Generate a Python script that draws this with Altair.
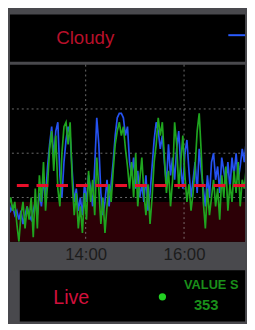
import altair as alt
import pandas as pd

# ---- data ----
start_min = 746      # 12:26
step_min = 2.5
blue = [9, 7, 8, 6, 7, 5, 7, 4, 6, 8, 6, 5, 7, 9, 6, 11, 8, 14, 10, 17,
        22, 26, 19, 25, 27, 15, 10, 18, 23, 26, 24, 16, 9, 12, 7, 10, 6, 13, 9, 15,
        12, 8, 17, 28, 22, 11, 6, 9, 14, 8, 13, 18, 24, 28, 29, 29, 28, 24, 26, 18,
        15, 19, 12, 16, 10, 13, 9, 15, 7, 11, 17, 23, 27, 25, 21, 24, 18, 13, 22, 15,
        19, 14, 21, 25, 17, 12, 20, 23, 16, 10, 14, 18, 11, 21, 16, 12, 8, 15, 10, 18,
        20, 14, 17, 11, 19, 16, 13, 18, 12, 19, 15, 20, 14, 17, 21, 18, 23, 26, 24, 28]
green = [8, 10, 7, 9, 4, 0, 6, 9, 3, 8, 5, 10, 1, 12, 3, 15, 9, 18, 7, 13,
         21, 25, 16, 24, 12, 8, 20, 26, 27, 22, 27, 14, 6, 11, 3, 8, 2, 11, 5, 16,
         9, 14, 6, 19, 12, 4, 10, 2, 8, 13, 9, 16, 22, 25, 27, 24, 26, 21, 17, 12,
         18, 10, 20, 8, 14, 19, 11, 6, 13, 4, 10, 18, 22, 28, 24, 27, 19, 11, 16, 8,
         14, 27, 22, 12, 18, 24, 15, 9, 13, 7, 11, 17, 25, 29, 20, 9, 3, 12, 6, 10,
         14, 8, 12, 5, 15, 10, 17, 7, 13, 9, 16, 11, 18, 8, 14, 12, 17, 10, 15, 20]
x_domain = [747.6, 1034.4]
y_domain = [0, 40]
tick_minutes = [840, 960]          # 14:00, 16:00
grid_values = [10, 20, 30]
threshold = 12.7
danger_zone = [0, 9]

times = [start_min + step_min * i for i in range(len(blue))]
series = pd.DataFrame({
    "t": times * 2,
    "v": blue + green,
    "s": ["blue"] * len(blue) + ["green"] * len(green),
})

BG = "#49494d"
W = 239

xs = alt.Scale(domain=x_domain, nice=False, zero=False)
ys = alt.Scale(domain=y_domain, nice=False)

# ---- header ----
header_df = pd.DataFrame({"label": ["Cloudy"]})
header_text = alt.Chart(header_df).mark_text(
    align="left", baseline="middle", fontSize=19, color="#b8102a", font="Liberation Sans"
).encode(text="label:N", x=alt.value(47), y=alt.value(24))
legend_line = alt.Chart(header_df).mark_rule(color="#2a5cff", strokeWidth=2).encode(
    x=alt.value(222), x2=alt.value(W), y=alt.value(21))
header = alt.layer(header_text, legend_line).properties(width=W, height=48)

# ---- main plot ----
zone = alt.Chart(pd.DataFrame({"lo": [danger_zone[0]], "hi": [danger_zone[1]]})).mark_rect(
    color="#2c0006").encode(
    y=alt.Y("lo:Q", scale=ys, axis=None), y2="hi:Q",
    x=alt.value(0), x2=alt.value(W))
hgrid = alt.Chart(pd.DataFrame({"g": grid_values})).mark_rule(
    color="#9a9a9a", strokeDash=[2, 3], strokeWidth=1, opacity=0.7).encode(
    y=alt.Y("g:Q", scale=ys, axis=None))
vgrid = alt.Chart(pd.DataFrame({"t": tick_minutes})).mark_rule(
    color="#9a9a9a", strokeDash=[2, 3], strokeWidth=1, opacity=0.7).encode(
    x=alt.X("t:Q", scale=xs))
lines = alt.Chart(series).mark_line(strokeWidth=1.7, clip=True).encode(
    x=alt.X("t:Q", scale=xs, axis=alt.Axis(
        values=tick_minutes, domain=False, ticks=False, grid=False, tickSize=0,
        labelPadding=5, labelFontSize=17, labelColor="#1c1c1c", labelFont="Liberation Sans",
        labelExpr="format(floor(datum.value/60),'02d') + ':' + format(datum.value%60,'02d')",
        title=None)),
    y=alt.Y("v:Q", scale=ys, axis=None),
    color=alt.Color("s:N", scale=alt.Scale(domain=["blue", "green"],
                                           range=["#2552f0", "#1fa51f"]), legend=None),
    order=alt.Order("s:N"),
)
thr = alt.Chart(pd.DataFrame({"th": [threshold]})).mark_rule(
    color="#e8102a", strokeWidth=3, strokeDash=[12, 8]).encode(
    y=alt.Y("th:Q", scale=ys, axis=None))
main = alt.layer(zone, hgrid, vgrid, lines, thr).properties(width=W, height=180)

# ---- bottom panel ----
bottom_df = pd.DataFrame({"live": ["Live"], "val": ["VALUE S"], "num": ["353"]})
panel = alt.Chart(bottom_df).mark_rect(color="black").encode(
    x=alt.value(10), x2=alt.value(W), y=alt.value(0), y2=alt.value(52))
live = alt.Chart(bottom_df).mark_text(
    align="left", baseline="middle", fontSize=20, color="#d0103c", font="Liberation Sans"
).encode(text="live:N", x=alt.value(44), y=alt.value(28))
dot = alt.Chart(bottom_df).mark_circle(color="#22d022", size=55, opacity=1).encode(
    x=alt.value(155), y=alt.value(27))
val = alt.Chart(bottom_df).mark_text(
    align="left", baseline="middle", fontSize=13, fontWeight="bold", color="#1a8f1a",
    font="Liberation Sans").encode(text="val:N", x=alt.value(177), y=alt.value(15))
num = alt.Chart(bottom_df).mark_text(
    align="left", baseline="middle", fontSize=15, fontWeight="bold", color="#1a8f1a",
    font="Liberation Sans").encode(text="num:N", x=alt.value(187), y=alt.value(35))
bottom = alt.layer(panel, live, dot, val, num).properties(
    width=W, height=52, view=alt.ViewBackground(fill=BG, stroke=None))

upper = alt.vconcat(header, main, spacing=2)
chart = alt.vconcat(upper, bottom, spacing=8).properties(
    background=BG, padding={"left": 0, "top": 4, "right": 0, "bottom": 0}
).configure_view(fill="black", stroke=None)

chart.save("out.html", embed_options={"renderer": "svg", "actions": False})
